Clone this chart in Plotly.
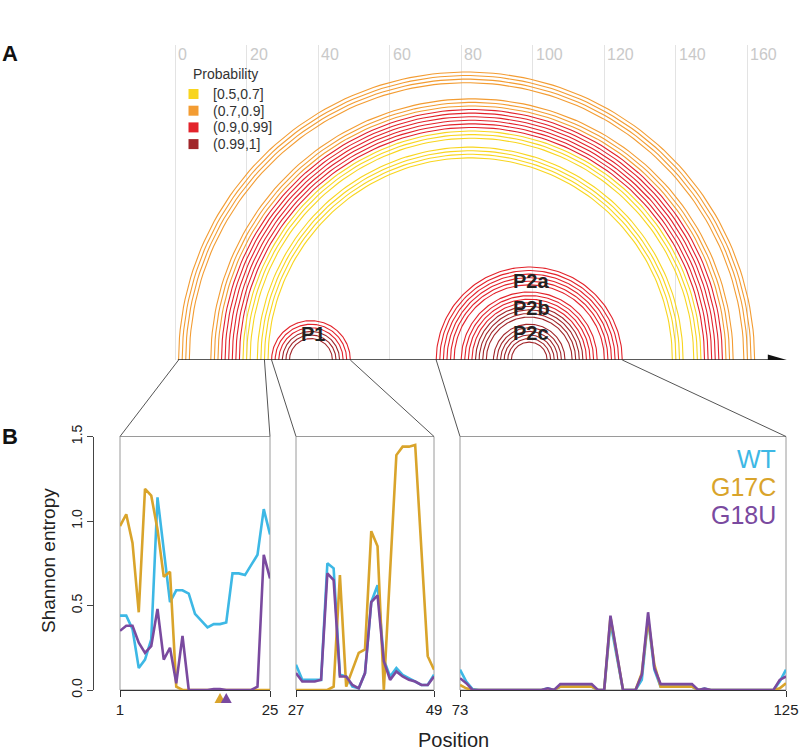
import numpy as np
import plotly.graph_objects as go

# ---------------- data ----------------
# probability classes of the base pairs (arc diagram)
PROB_BINS = ["[0.5,0.7]", "(0.7,0.9]", "(0.9,0.99]", "(0.99,1]"]
PROB_COLORS = ["#F8D51F", "#F39C32", "#E3232B", "#A1262A"]

# stacked helices: 5' start, 3' partner of that start, number of pairs, probability class
HELIX_I = [1, 10, 13, 19, 23, 27, 30, 73, 80, 84, 89]
HELIX_J = [162, 156, 153, 147, 142, 49, 46, 125, 118, 114, 109]
HELIX_N = [4, 3, 6, 3, 4, 3, 3, 6, 4, 4, 6]
HELIX_BIN = [1, 1, 2, 0, 0, 2, 3, 2, 2, 3, 3]

DOMAIN_LABELS = ["P1", "P2a", "P2b", "P2c"]
DOMAIN_X = [38.5, 99.5, 99.5, 99.5]
DOMAIN_Y = [7.3, 22.0, 14.6, 7.6]

TOP_TICKS = [0, 20, 40, 60, 80, 100, 120, 140, 160]

# Shannon entropy windows
WINDOWS = [(1, 25), (27, 49), (73, 125)]
VARIANTS = ["WT", "G17C", "G18U"]
VARIANT_COLORS = ["#3DB8E5", "#D9A42B", "#7A4A9F"]

WT_1 = [0.44, 0.44, 0.36, 0.13, 0.18, 0.30, 1.14, 0.83, 0.52, 0.59, 0.59, 0.57, 0.45,
        0.41, 0.37, 0.39, 0.39, 0.40, 0.69, 0.69, 0.68, 0.74, 0.80, 1.07, 0.92]
G17C_1 = [0.97, 1.04, 0.87, 0.46, 1.19, 1.15, 0.95, 0.67, 0.70, 0.02, 0.0, 0.0, 0.0,
          0.0, 0.0, 0.0, 0.0, 0.0, 0.0, 0.0, 0.0, 0.0, 0.0, 0.0, 0.0]
G18U_1 = [0.35, 0.38, 0.38, 0.28, 0.22, 0.26, 0.48, 0.18, 0.25, 0.04, 0.32, 0.0, 0.0,
          0.0, 0.0, 0.005, 0.005, 0.0, 0.0, 0.0, 0.0, 0.0, 0.02, 0.80, 0.66]

WT_2 = [0.15, 0.06, 0.06, 0.06, 0.06, 0.75, 0.72, 0.09, 0.08, 0.02, 0.01, 0.10,
        0.52, 0.62, 0.18, 0.08, 0.13, 0.09, 0.07, 0.05, 0.03, 0.03, 0.09]
G17C_2 = [0.0, 0.0, 0.0, 0.0, 0.0, 0.0, 0.02, 0.68, 0.02, 0.12, 0.22, 0.24,
          0.94, 0.85, 0.0, 0.70, 1.39, 1.44, 1.44, 1.45, 0.82, 0.20, 0.12]
G18U_2 = [0.10, 0.05, 0.05, 0.05, 0.06, 0.69, 0.65, 0.08, 0.08, 0.03, 0.01, 0.10,
          0.52, 0.56, 0.17, 0.06, 0.11, 0.08, 0.06, 0.05, 0.03, 0.03, 0.08]

WT_3 = [0.12, 0.05, 0.005, 0.0, 0.0, 0.0, 0.0, 0.0, 0.0, 0.0, 0.0, 0.0, 0.0, 0.0,
        0.01, 0.0, 0.02, 0.02, 0.02, 0.02, 0.02, 0.02, 0.0, 0.0, 0.40, 0.20, 0.0,
        0.0, 0.0, 0.06, 0.42, 0.12, 0.02, 0.02, 0.02, 0.02, 0.02, 0.02, 0.0, 0.008,
        0.0, 0.0, 0.0, 0.0, 0.0, 0.0, 0.0, 0.0, 0.0, 0.0, 0.0, 0.05, 0.12]
G17C_3 = [0.03, 0.01, 0.0, 0.0, 0.0, 0.0, 0.0, 0.0, 0.0, 0.0, 0.0, 0.0, 0.0, 0.0,
          0.005, 0.0, 0.02, 0.02, 0.02, 0.02, 0.02, 0.02, 0.0, 0.0, 0.43, 0.21, 0.0,
          0.0, 0.0, 0.10, 0.42, 0.15, 0.02, 0.02, 0.02, 0.02, 0.02, 0.02, 0.0, 0.005,
          0.0, 0.0, 0.0, 0.0, 0.0, 0.0, 0.0, 0.0, 0.0, 0.0, 0.0, 0.01, 0.04]
G18U_3 = [0.07, 0.04, 0.0, 0.0, 0.0, 0.0, 0.0, 0.0, 0.0, 0.0, 0.0, 0.0, 0.0, 0.0,
          0.01, 0.0, 0.035, 0.035, 0.035, 0.035, 0.035, 0.035, 0.0, 0.0, 0.44, 0.22, 0.0,
          0.0, 0.0, 0.09, 0.46, 0.13, 0.035, 0.035, 0.035, 0.035, 0.035, 0.035, 0.0, 0.008,
          0.0, 0.0, 0.0, 0.0, 0.0, 0.0, 0.0, 0.0, 0.0, 0.0, 0.0, 0.06, 0.08]

MUT_POS = [17, 18]
MUT_COLORS = ["#D9A42B", "#7A4A9F"]

Y_TICKS = [0, 0.5, 1.0, 1.5]
Y_TICKTEXT = ["0.0", "0.5", "1.0", "1.5"]

# ---------------- layout geometry ----------------
W, H = 800, 755
FONT = "Liberation Sans, Arial, Helvetica, sans-serif"
PX = 3.578          # pixels per nucleotide in panel A
X0PX = 175.0        # pixel of position 0
BASE_PX = 360.0     # baseline of the arc diagram
TOP_PX = 45.0

xa_range = [-X0PX / PX, (W - X0PX) / PX]
ya_dom = [(H - BASE_PX) / H, (H - TOP_PX) / H]
ya_range = [0, (BASE_PX - TOP_PX) / PX]

B_BOT_PX, B_TOP_PX = 690.0, 436.5
b_dom = [(H - B_BOT_PX) / H, (H - B_TOP_PX) / H]
PANEL_PX = [(120, 270), (296, 434), (460, 786)]

entropy = {"WT": [WT_1, WT_2, WT_3], "G17C": [G17C_1, G17C_2, G17C_3],
           "G18U": [G18U_1, G18U_2, G18U_3]}


def arc_xy(i, j, n=120):
    t = np.linspace(0, np.pi, n)
    c, r = (i + j) / 2, (j - i) / 2
    return list(c + r * np.cos(t)) + [None], list(r * np.sin(t)) + [None]


def paper(px, py):
    return px / W, (H - py) / H


fig = go.Figure()

# arcs, one trace per probability class
for b, col in enumerate(PROB_COLORS):
    xs, ys = [], []
    for i0, j0, n, hb in zip(HELIX_I, HELIX_J, HELIX_N, HELIX_BIN):
        if hb != b:
            continue
        for k in range(n):
            ax, ay = arc_xy(i0 + k, j0 - k)
            xs += ax
            ys += ay
    fig.add_trace(go.Scatter(x=xs, y=ys, mode="lines", line=dict(color=col, width=1.1),
                             hoverinfo="skip", showlegend=False, xaxis="x", yaxis="y"))

# entropy lines
for k, (lo, hi) in enumerate(WINDOWS):
    pos = np.arange(lo, hi + 1)
    for name, col in zip(VARIANTS, VARIANT_COLORS):
        fig.add_trace(go.Scatter(x=pos, y=entropy[name][k], mode="lines", name=name,
                                 line=dict(color=col, width=2.6), showlegend=False,
                                 xaxis=f"x{k + 2}", yaxis=f"y{k + 2}"))

shapes = []
annotations = []

# mutated positions: small triangles just under the axis of the first window
for p, col in zip(MUT_POS, MUT_COLORS):
    shapes.append(dict(type="path", xref="x2", yref="paper", xsizemode="pixel",
                       ysizemode="pixel", xanchor=p, yanchor=b_dom[0],
                       path="M -5.5 -13 L 5.5 -13 L 0 -3 Z",
                       fillcolor=col, line=dict(width=0)))


def label(px, py, text, size, color="#222", **kw):
    x, y = paper(px, py)
    d = dict(x=x, y=y, xref="paper", yref="paper", text=text, showarrow=False,
             xanchor="center", yanchor="middle",
             font=dict(size=size, color=color, family=FONT))
    d.update(kw)
    annotations.append(d)


# baseline with arrow head
shapes.append(dict(type="line", xref="x", yref="y", x0=0.8, x1=166, y0=0, y1=0,
                   line=dict(color="#222", width=1.4)))
tip = 171.0
hl, hw = 19 / PX, 5.5 / PX
shapes.append(dict(type="path", xref="x", yref="y",
                   path=f"M {tip} 0 L {tip - hl} {hw} L {tip - hl} {-hw} Z",
                   fillcolor="#111", line=dict(color="#111", width=0)))

# top tick labels
for v in TOP_TICKS:
    annotations.append(dict(x=v, y=1, xref="x", yref="y domain", text=str(v),
                            showarrow=False, xanchor="left", yanchor="top",
                            xshift=1, yshift=1, font=dict(size=16, color="#c9c9c9", family=FONT)))

# probability legend
label(226, 74, "Probability", 14, "#333")
for k, (lab, col) in enumerate(zip(PROB_BINS, PROB_COLORS)):
    cy = 94 + 16.7 * k
    x0, y0 = paper(188.5, cy + 5)
    x1, y1 = paper(198.5, cy - 5)
    shapes.append(dict(type="rect", xref="paper", yref="paper",
                       x0=x0, x1=x1, y0=y0, y1=y1, fillcolor=col, line=dict(width=0)))
    label(211, cy, lab, 14, "#333", xanchor="left")

# domain labels
for lab, dx, dy in zip(DOMAIN_LABELS, DOMAIN_X, DOMAIN_Y):
    annotations.append(dict(x=dx, y=dy, xref="x", yref="y", text=f"<b>{lab}</b>",
                            showarrow=False, xanchor="center", yanchor="middle",
                            font=dict(size=20, color="#222", family=FONT)))

# connectors and frames
for k, ((lo, hi), (l, r)) in enumerate(zip(WINDOWS, PANEL_PX)):
    for p, bx in ((lo, l), (hi, r)):
        shapes.append(dict(type="line", xref="paper", yref="paper",
                           x0=(X0PX + PX * p) / W, y0=ya_dom[0], x1=bx / W, y1=b_dom[1],
                           line=dict(color="#555", width=1)))
    shapes.append(dict(type="rect", xref=f"x{k + 2} domain", yref=f"y{k + 2} domain",
                       x0=0, x1=1, y0=0, y1=1, line=dict(color="#9a9a9a", width=1),
                       layer="below"))

# panel letters and titles
label(10, 53, "<b>A</b>", 22, "#111")
label(10, 437, "<b>B</b>", 22, "#111")
label(48, 561, "Shannon entropy", 19, textangle=-90)
label(453, 740, "Position", 20)
for k, (name, col) in enumerate(zip(VARIANTS, VARIANT_COLORS)):
    label(778, 459 + 28 * k, name, 25, col, xanchor="right")

axis_off = dict(showgrid=False, zeroline=False)
layout = dict(
    width=W, height=H, template="none",
    margin=dict(l=0, r=0, t=0, b=0),
    paper_bgcolor="white", plot_bgcolor="white",
    font=dict(family=FONT, color="#222"),
    showlegend=False,
    xaxis=dict(domain=[0, 1], range=xa_range, anchor="y", showgrid=True,
               gridcolor="#e3e3e3", gridwidth=1, tickvals=TOP_TICKS,
               showticklabels=False, ticks="", zeroline=False, showline=False),
    yaxis=dict(domain=ya_dom, range=ya_range, anchor="x", showgrid=False, zeroline=False,
               showticklabels=False, ticks="", showline=False),
    shapes=shapes, annotations=annotations,
)
for k, ((lo, hi), (l, r)) in enumerate(zip(WINDOWS, PANEL_PX)):
    n = k + 2
    layout[f"xaxis{n}"] = dict(domain=[l / W, r / W], range=[lo, hi], anchor=f"y{n}",
                               showline=True, linecolor="#333", linewidth=1,
                               ticks="outside", ticklen=6, tickcolor="#333",
                               tickvals=[lo, hi], tickfont=dict(size=15, color="#222"),
                               **axis_off)
    layout[f"yaxis{n}"] = dict(domain=b_dom, range=[0, 1.5], anchor=f"x{n}",
                               showticklabels=False, ticks="", showline=False, **axis_off)
layout["yaxis2"].update(anchor="free", position=93.3 / W, showline=True, linecolor="#444",
                        ticks="outside", ticklen=6, tickcolor="#444", tickvals=Y_TICKS,
                        ticktext=Y_TICKTEXT, showticklabels=True, tickangle=-90,
                        tickfont=dict(size=14, color="#222"))

fig.update_layout(**layout)
# the page's default body margin would shift the 800x755 figure; remove it
fig.write_html("out.html", config={"displayModeBar": False},
               post_script="document.body.style.margin='0';")
